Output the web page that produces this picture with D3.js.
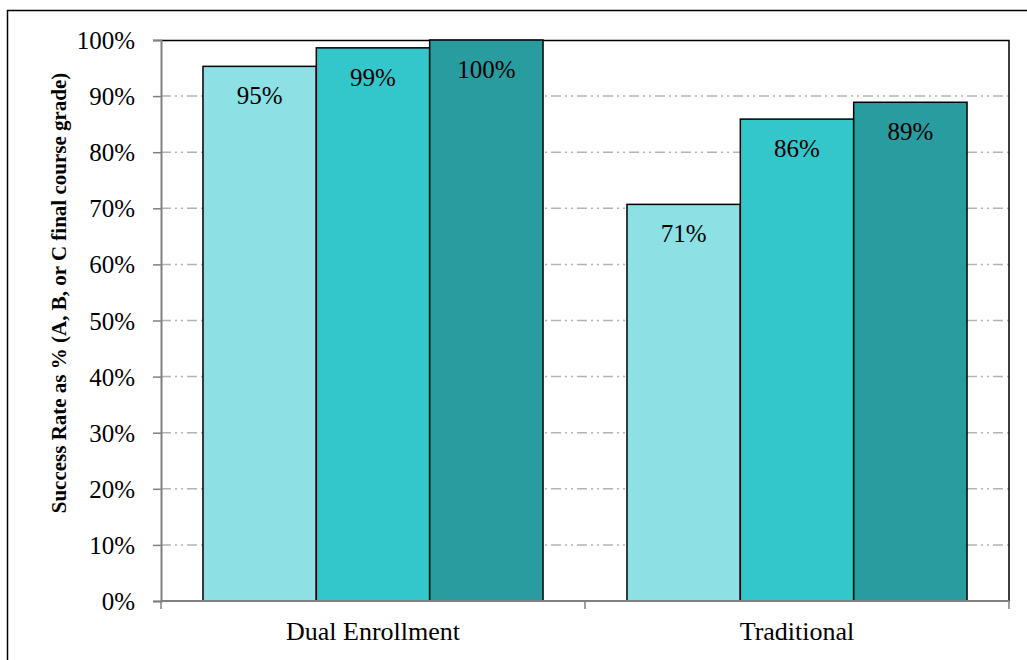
<!DOCTYPE html>
<html>
<head>
<meta charset="utf-8">
<script src="https://cdn.jsdelivr.net/npm/d3@7"></script>
<style>
  body { margin: 0; background: #fff; }
  text { font-family: "Liberation Serif", "Times New Roman", serif; }
</style>
</head>
<body>
<div id="chart"></div>
<script>
var categories = ["Dual Enrollment", "Traditional"];
var seriesNames = ["s1", "s2", "s3"];
var seriesValues = [
  [95.3, 98.6, 100],
  [70.7, 85.9, 88.9]
];
var seriesColors = ["#8de0e3", "#33c6ca", "#289c9e"];
var yTicks = [0, 10, 20, 30, 40, 50, 60, 70, 80, 90, 100];

var svgWidth = 1027, svgHeight = 660;
var margin = { top: 40, right: 18, bottom: 59, left: 161 };
var width = svgWidth - margin.left - margin.right;
var height = svgHeight - margin.top - margin.bottom;

var svg = d3.select("#chart").append("svg")
  .attr("width", svgWidth)
  .attr("height", svgHeight);

// outer frame
svg.append("rect")
  .attr("x", 7.5).attr("y", 10.5)
  .attr("width", 1040).attr("height", 700)
  .attr("fill", "none").attr("stroke", "#000").attr("stroke-width", 1.5);

var chartGroup = svg.append("g")
  .attr("transform", `translate(${margin.left}, ${margin.top})`);

var x0 = d3.scaleBand().domain(categories).range([0, width]).paddingInner(0.198).paddingOuter(0.099);
var x1 = d3.scaleBand().domain(seriesNames).range([0, x0.bandwidth()]);
var y = d3.scaleLinear().domain([0, 100]).range([height, 0]);

// gridlines
chartGroup.selectAll(".grid")
  .data(yTicks.filter(d => d > 0 && d < 100))
  .enter().append("line")
  .attr("x1", 0).attr("x2", width)
  .attr("y1", d => y(d)).attr("y2", d => y(d))
  .attr("stroke", "#b3b3b3").attr("stroke-width", 1.5)
  .attr("stroke-dasharray", "10,4,2,4,2,4");

// top and right border of plot area
chartGroup.append("path")
  .attr("d", `M0,0.5H${width}V${height}`)
  .attr("fill", "none").attr("stroke", "#000").attr("stroke-width", 1.5);

// bars
var groups = chartGroup.selectAll(".cat")
  .data(categories)
  .enter().append("g")
  .attr("transform", d => `translate(${x0(d)},0)`);

groups.selectAll("rect")
  .data((d, i) => seriesValues[i].map((v, j) => ({ key: seriesNames[j], value: v, color: seriesColors[j] })))
  .enter().append("rect")
  .attr("x", d => x1(d.key))
  .attr("y", d => y(d.value))
  .attr("width", x1.bandwidth())
  .attr("height", d => height - y(d.value))
  .attr("fill", d => d.color)
  .attr("stroke", "#000").attr("stroke-width", 1.5);

groups.selectAll(".lbl")
  .data((d, i) => seriesValues[i].map((v, j) => ({ key: seriesNames[j], value: v })))
  .enter().append("text")
  .attr("x", d => x1(d.key) + x1.bandwidth() / 2)
  .attr("y", d => y(d.value) + 38)
  .attr("text-anchor", "middle")
  .style("font-size", "25px")
  .attr("fill", "#000")
  .text(d => Math.round(d.value) + "%");

// axes
var leftAxis = d3.axisLeft(y).tickValues(yTicks).tickFormat(d => d + "%").tickSizeOuter(0).tickSize(8).tickPadding(18);
var yAxis = chartGroup.append("g").call(leftAxis);
yAxis.select(".domain").attr("stroke", "#808080").attr("stroke-width", 2);
yAxis.selectAll(".tick line").attr("stroke", "#808080").attr("stroke-width", 1.5);
yAxis.selectAll(".tick text").style("font-size", "25px").attr("fill", "#000").attr("dy", "0.34em");

var xTickScale = d3.scaleLinear().domain([0, 2]).range([0, width]);
chartGroup.append("line")
  .attr("x1", 0).attr("x2", width).attr("y1", height).attr("y2", height)
  .attr("stroke", "#808080").attr("stroke-width", 2);
chartGroup.selectAll(".xtick")
  .data([0, 1, 2])
  .enter().append("line")
  .attr("x1", d => xTickScale(d)).attr("x2", d => xTickScale(d))
  .attr("y1", height).attr("y2", height + 8)
  .attr("stroke", "#808080").attr("stroke-width", 1.5);

chartGroup.selectAll(".xlbl")
  .data(categories)
  .enter().append("text")
  .attr("x", d => x0(d) + x0.bandwidth() / 2)
  .attr("y", height + 39)
  .attr("text-anchor", "middle")
  .style("font-size", "26px")
  .text(d => d);

// y title
svg.append("text")
  .attr("transform", "translate(66, 293) rotate(-90)")
  .attr("text-anchor", "middle")
  .style("font-size", "21px")
  .attr("font-weight", "bold")
  .text("Success Rate as % (A, B, or C final course grade)");
</script>
</body>
</html>
